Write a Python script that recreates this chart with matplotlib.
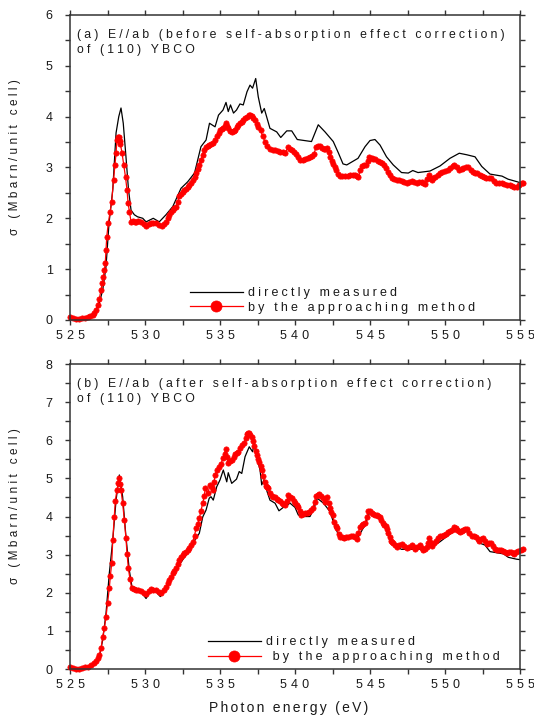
import matplotlib
matplotlib.use('Agg')
import matplotlib.pyplot as plt
from matplotlib.ticker import MultipleLocator, FuncFormatter

plt.rcParams['font.family'] = ['Liberation Sans', 'DejaVu Sans']

# ---- data (photon energy in eV, sigma in Mbarn/unit cell) ----
# (a) before correction, directly measured
a_meas_e = [525.0, 525.5, 526.0, 526.5, 526.95, 527.18, 527.4, 527.6, 527.85, 528.07,
            528.25, 528.4, 528.55, 528.73, 528.9, 529.07, 529.29, 529.5, 529.85, 530.07,
            530.55, 530.95, 531.4, 531.85, 532.4, 532.85, 533.3, 533.73, 534.07, 534.3,
            534.67, 534.9, 535.2, 535.4, 535.55, 535.7, 535.9, 536.1, 536.33, 536.55,
            536.8, 537.0, 537.17, 537.38, 537.55, 537.78, 537.95, 538.33, 538.78, 539.05,
            539.45, 539.78, 540.15, 541.1, 541.55, 542.0, 542.55, 542.9, 543.2, 543.45,
            544.2, 544.67, 545.0, 545.33, 545.67, 546.1, 546.55, 547.1, 547.55, 547.85,
            548.2, 549.0, 549.67, 550.33, 550.95, 551.45, 552.0, 552.45, 553.0, 553.8,
            554.2, 554.8, 555.0]
a_meas_s = [0.03, 0.02, 0.03, 0.06, 0.33, 0.59, 1.05, 1.9, 2.56, 3.68,
            4.0, 4.17, 3.87, 3.21, 2.56, 2.16, 2.07, 2.03, 2.0, 1.93,
            2.0, 1.93, 2.07, 2.23, 2.59, 2.72, 2.89, 3.41, 3.54, 3.87,
            3.8, 4.03, 4.13, 4.28, 4.1, 4.23, 4.07, 4.13, 4.25, 4.23,
            4.49, 4.62, 4.56, 4.75, 4.39, 4.07, 4.16, 3.77, 3.7, 3.59,
            3.72, 3.72, 3.55, 3.51, 3.84, 3.7, 3.51, 3.28, 3.07, 3.05,
            3.18, 3.41, 3.53, 3.55, 3.44, 3.21, 3.05, 2.9, 2.89, 2.94,
            2.9, 2.93, 3.03, 3.18, 3.28, 3.25, 3.21, 3.02, 2.87, 2.83,
            2.77, 2.72, 2.70]

# (a) before correction, approaching method
a_appr_e = [525.0, 525.2, 525.4, 525.6, 525.8, 526.0, 526.2, 526.35, 526.5, 526.62,
            526.73, 526.85, 526.95, 527.07, 527.15, 527.22, 527.29, 527.35, 527.4, 527.45,
            527.55, 527.67, 527.78, 527.9, 528.0, 528.07, 528.13, 528.19, 528.25, 528.3,
            528.36, 528.47, 528.58, 528.7, 528.8, 528.87, 528.96, 529.07, 529.2, 529.3,
            529.4, 529.55, 529.73, 529.9, 530.07, 530.25, 530.4, 530.55, 530.73, 530.9,
            531.13, 531.25, 531.4, 531.5, 531.62, 531.75, 531.85, 531.95, 532.07, 532.18,
            532.28, 532.4, 532.5, 532.62, 532.73, 532.85, 532.95, 533.07, 533.18, 533.3,
            533.4, 533.5, 533.62, 533.73, 533.85, 533.95, 534.07, 534.18, 534.28, 534.4,
            534.55, 534.67, 534.78, 534.9, 535.0, 535.11, 535.22, 535.3, 535.38, 535.47,
            535.55, 535.67, 535.78, 535.9, 536.0, 536.11, 536.22, 536.33, 536.45, 536.56,
            536.67, 536.78, 536.9, 537.0, 537.1, 537.22, 537.33, 537.45, 537.55, 537.7,
            537.85, 538.0, 538.15, 538.33, 538.5, 538.67, 538.85, 539.0, 539.17, 539.33,
            539.55, 539.67, 539.78, 539.93, 540.07, 540.2, 540.33, 540.5, 540.67, 540.85,
            541.0, 541.15, 541.27, 541.4, 541.55, 541.67, 541.8, 541.9, 542.0, 542.15,
            542.25, 542.33, 542.45, 542.55, 542.65, 542.73, 542.85, 543.0, 543.15, 543.33,
            543.5, 543.67, 543.85, 544.0, 544.12, 544.22, 544.35, 544.45, 544.6, 544.73,
            544.85, 544.95, 545.1, 545.2, 545.33, 545.5, 545.67, 545.8, 545.93, 546.07,
            546.22, 546.33, 546.45, 546.6, 546.78, 546.95, 547.1, 547.28, 547.45, 547.6,
            547.78, 547.95, 548.1, 548.28, 548.45, 548.55, 548.67, 548.8, 548.9, 549.0,
            549.1, 549.2, 549.33, 549.5, 549.67, 549.83, 550.0, 550.17, 550.33, 550.5,
            550.62, 550.8, 550.95, 551.1, 551.22, 551.4, 551.55, 551.7, 551.85, 552.0,
            552.15, 552.3, 552.45, 552.6, 552.73, 552.9, 553.07, 553.25, 553.4, 553.6,
            553.78, 553.95, 554.1, 554.3, 554.45, 554.6, 554.78, 554.95, 555.1, 555.2]
a_appr_s = [0.05, 0.03, 0.01, 0.02, 0.03, 0.04, 0.05, 0.07, 0.1, 0.14,
            0.2, 0.3, 0.41, 0.59, 0.72, 0.85, 0.98, 1.12, 1.38, 1.64,
            1.9, 2.13, 2.33, 2.75, 3.05, 3.28, 3.54, 3.6, 3.59, 3.52,
            3.46, 3.28, 3.05, 2.81, 2.56, 2.3, 2.13, 1.93, 1.94, 1.92,
            1.92, 1.94, 1.93, 1.88, 1.85, 1.89, 1.91, 1.9, 1.9, 1.86,
            1.84, 1.88, 1.93, 2.0, 2.07, 2.12, 2.16, 2.2, 2.23, 2.33,
            2.43, 2.48, 2.52, 2.55, 2.57, 2.62, 2.66, 2.7, 2.75, 2.82,
            2.89, 2.97, 3.05, 3.15, 3.25, 3.34, 3.41, 3.42, 3.44, 3.46,
            3.48, 3.55, 3.61, 3.68, 3.74, 3.75, 3.77, 3.82, 3.87, 3.82,
            3.77, 3.72, 3.7, 3.72, 3.74, 3.79, 3.84, 3.87, 3.9, 3.94,
            3.97, 4.0, 4.03, 4.03, 4.01, 3.97, 3.93, 3.86, 3.8, 3.74,
            3.61, 3.51, 3.43, 3.36, 3.35, 3.34, 3.32, 3.31, 3.3, 3.28,
            3.4, 3.37, 3.34, 3.3, 3.27, 3.2, 3.15, 3.15, 3.16, 3.18,
            3.2, 3.23, 3.27, 3.4, 3.42, 3.42, 3.39, 3.36, 3.36, 3.38,
            3.3, 3.21, 3.13, 3.07, 3.0, 2.95, 2.87, 2.83, 2.83, 2.83,
            2.84, 2.85, 2.85, 2.85, 2.83, 2.81, 2.95, 3.02, 3.04, 3.05,
            3.12, 3.21, 3.19, 3.17, 3.16, 3.13, 3.11, 3.08, 3.05, 2.99,
            2.92, 2.85, 2.79, 2.77, 2.75, 2.75, 2.74, 2.72, 2.7, 2.72,
            2.74, 2.72, 2.69, 2.71, 2.72, 2.7, 2.68, 2.77, 2.85, 2.8,
            2.75, 2.79, 2.82, 2.86, 2.9, 2.92, 2.94, 2.96, 2.98, 3.02,
            3.05, 3.0, 2.95, 2.97, 2.98, 3.0, 3.0, 2.96, 2.92, 2.9,
            2.89, 2.86, 2.83, 2.81, 2.79, 2.79, 2.79, 2.74, 2.7, 2.7,
            2.69, 2.67, 2.66, 2.65, 2.64, 2.62, 2.61, 2.66, 2.7, 2.69]

# (b) after correction, directly measured
b_meas_e = [525.0, 525.5, 526.0, 526.5, 526.95, 527.18, 527.4, 527.62, 527.85, 528.07,
            528.29, 528.51, 528.73, 528.95, 529.13, 529.4, 529.73, 530.07, 530.4, 530.73,
            531.02, 531.4, 531.85, 532.28, 532.73, 533.18, 533.62, 533.85, 534.07, 534.28,
            534.4, 534.55, 534.78, 535.0, 535.22, 535.45, 535.55, 535.78, 536.1, 536.28,
            536.45, 536.67, 536.95, 537.17, 537.28, 537.45, 537.67, 537.78, 537.93, 538.1,
            538.33, 538.67, 538.93, 539.22, 539.67, 540.0, 540.22, 540.55, 541.0, 541.27,
            541.48, 541.9, 542.33, 542.67, 542.95, 543.27, 543.78, 544.22, 544.67, 545.0,
            545.33, 545.67, 546.0, 546.33, 546.67, 547.1, 547.67, 548.22, 548.78, 549.22,
            549.67, 550.1, 550.55, 551.0, 551.45, 551.9, 552.33, 552.67, 553.0, 553.45,
            553.9, 554.22, 554.78, 555.0]
b_meas_s = [0.03, 0.02, 0.03, 0.06, 0.32, 0.76, 1.46, 2.51, 3.38, 4.43,
            5.09, 4.52, 3.47, 2.6, 2.16, 2.12, 2.03, 1.85, 2.07, 2.03,
            1.9, 2.12, 2.47, 2.73, 2.99, 3.3, 3.56, 3.99, 4.17, 4.48,
            4.52, 4.43, 4.78, 4.96, 5.22, 4.91, 5.15, 4.87, 4.98, 5.18,
            5.13, 5.57, 5.83, 5.7, 5.92, 5.57, 5.22, 4.83, 4.96, 4.7,
            4.43, 4.35, 4.15, 4.24, 4.35, 4.24, 4.04, 4.0, 4.0, 4.22,
            4.48, 4.35, 4.13, 3.73, 3.47, 3.37, 3.47, 3.47, 3.78, 4.13,
            4.04, 3.95, 3.73, 3.38, 3.23, 3.14, 3.14, 3.14, 3.17, 3.23,
            3.34, 3.47, 3.6, 3.65, 3.6, 3.51, 3.3, 3.25, 3.08, 3.05,
            3.02, 2.93, 2.88, 2.87]

# (b) after correction, approaching method
b_appr_e = [525.0, 525.2, 525.4, 525.6, 525.8, 526.0, 526.2, 526.4, 526.62, 526.75,
            526.85, 526.95, 527.07, 527.18, 527.29, 527.4, 527.51, 527.62, 527.69, 527.78,
            527.85, 527.95, 528.02, 528.13, 528.22, 528.29, 528.35, 528.4, 528.51, 528.62,
            528.73, 528.8, 528.89, 529.0, 529.11, 529.25, 529.4, 529.55, 529.73, 529.9,
            530.07, 530.25, 530.4, 530.55, 530.73, 530.9, 531.07, 531.25, 531.4, 531.5,
            531.62, 531.75, 531.85, 531.95, 532.07, 532.18, 532.28, 532.4, 532.51, 532.62,
            532.73, 532.85, 532.95, 533.07, 533.18, 533.3, 533.4, 533.5, 533.62, 533.73,
            533.85, 533.95, 534.02, 534.18, 534.35, 534.45, 534.51, 534.6, 534.67, 534.82,
            534.95, 535.05, 535.22, 535.3, 535.38, 535.47, 535.55, 535.67, 535.78, 535.9,
            536.0, 536.11, 536.22, 536.33, 536.45, 536.6, 536.7, 536.78, 536.87, 536.95,
            537.03, 537.11, 537.2, 537.28, 537.37, 537.45, 537.55, 537.62, 537.7, 537.78,
            537.89, 537.98, 538.07, 538.15, 538.22, 538.33, 538.45, 538.55, 538.67, 538.78,
            538.89, 539.0, 539.11, 539.22, 539.33, 539.45, 539.55, 539.67, 539.78, 539.9,
            540.0, 540.11, 540.22, 540.3, 540.38, 540.5, 540.67, 540.8, 540.95, 541.07,
            541.18, 541.3, 541.4, 541.5, 541.62, 541.75, 541.85, 542.0, 542.15, 542.25,
            542.33, 542.42, 542.51, 542.6, 542.7, 542.78, 542.9, 543.0, 543.15, 543.27,
            543.4, 543.55, 543.7, 543.85, 544.0, 544.11, 544.22, 544.33, 544.45, 544.55,
            544.67, 544.78, 544.89, 545.0, 545.1, 545.22, 545.33, 545.45, 545.55, 545.67,
            545.75, 545.85, 545.95, 546.07, 546.15, 546.22, 546.3, 546.38, 546.45, 546.55,
            546.67, 546.78, 546.95, 547.11, 547.28, 547.45, 547.6, 547.78, 547.9, 548.0,
            548.15, 548.33, 548.45, 548.55, 548.67, 548.78, 548.87, 548.95, 549.03, 549.11,
            549.25, 549.4, 549.55, 549.67, 549.8, 549.93, 550.07, 550.22, 550.35, 550.45,
            550.6, 550.7, 550.82, 550.9, 551.0, 551.1, 551.22, 551.35, 551.45, 551.6,
            551.78, 551.92, 552.07, 552.18, 552.29, 552.42, 552.55, 552.65, 552.78, 552.9,
            553.05, 553.2, 553.33, 553.48, 553.62, 553.75, 553.89, 554.0, 554.11, 554.25,
            554.38, 554.5, 554.6, 554.75, 554.89, 555.05, 555.22]
b_appr_s = [0.05, 0.03, 0.0, 0.01, 0.03, 0.04, 0.06, 0.1, 0.17, 0.22,
            0.28, 0.37, 0.54, 0.85, 1.07, 1.37, 1.74, 2.12, 2.44, 2.77,
            3.38, 3.98, 4.41, 4.7, 4.89, 5.0, 4.85, 4.7, 4.35, 3.91,
            3.43, 3.03, 2.64, 2.35, 2.12, 2.09, 2.07, 2.07, 2.05, 2.0,
            1.97, 2.04, 2.09, 2.08, 2.07, 2.03, 2.0, 2.08, 2.16, 2.25,
            2.33, 2.42, 2.51, 2.57, 2.64, 2.75, 2.86, 2.93, 2.99, 3.04,
            3.08, 3.12, 3.17, 3.25, 3.34, 3.5, 3.69, 3.8, 3.95, 4.15,
            4.35, 4.55, 4.74, 4.61, 4.83, 4.78, 4.7, 4.9, 5.1, 5.22,
            5.3, 5.38, 5.53, 5.65, 5.76, 5.55, 5.4, 5.45, 5.48, 5.56,
            5.64, 5.67, 5.7, 5.8, 5.88, 5.92, 6.05, 6.16, 6.18, 6.18,
            6.15, 6.09, 5.97, 5.85, 5.73, 5.61, 5.5, 5.44, 5.33, 5.22,
            5.06, 4.9, 4.8, 4.77, 4.74, 4.62, 4.54, 4.52, 4.5, 4.47,
            4.43, 4.4, 4.36, 4.33, 4.3, 4.4, 4.56, 4.52, 4.48, 4.41,
            4.35, 4.3, 4.26, 4.15, 4.04, 4.06, 4.08, 4.1, 4.13, 4.17,
            4.22, 4.38, 4.54, 4.57, 4.59, 4.53, 4.48, 4.39, 4.5, 4.35,
            4.22, 4.13, 4.04, 3.86, 3.76, 3.69, 3.55, 3.47, 3.45, 3.43,
            3.45, 3.47, 3.48, 3.49, 3.45, 3.4, 3.57, 3.73, 3.77, 3.8,
            3.82, 3.98, 4.15, 4.15, 4.1, 4.07, 4.05, 4.04, 4.01, 3.98,
            3.9, 3.84, 3.79, 3.75, 3.66, 3.58, 3.47, 3.36, 3.33, 3.31,
            3.26, 3.21, 3.25, 3.28, 3.22, 3.17, 3.21, 3.25, 3.2, 3.14,
            3.19, 3.25, 3.18, 3.12, 3.15, 3.19, 3.3, 3.43, 3.33, 3.23,
            3.3, 3.37, 3.43, 3.49, 3.5, 3.51, 3.55, 3.6, 3.62, 3.65,
            3.73, 3.69, 3.65, 3.62, 3.6, 3.62, 3.65, 3.66, 3.66, 3.57,
            3.49, 3.48, 3.47, 3.42, 3.37, 3.4, 3.43, 3.35, 3.28, 3.3,
            3.31, 3.22, 3.14, 3.13, 3.12, 3.11, 3.1, 3.08, 3.05, 3.07,
            3.08, 3.05, 3.03, 3.07, 3.1, 3.12, 3.14]

panels = [
    dict(meas=(a_meas_e, a_meas_s), appr=(a_appr_e, a_appr_s), ymax=6,
         title='(a) E//ab (before self-absorption effect correction)\nof (110) YBCO',
         leg_x=0.267, lab2='by the approaching method'),
    dict(meas=(b_meas_e, b_meas_s), appr=(b_appr_e, b_appr_s), ymax=8,
         title='(b) E//ab (after self-absorption effect correction)\nof (110) YBCO',
         leg_x=0.307, lab2=' by the approaching method'),
]

TXT = '#1a1a1a'
W = '\u2005'   # letter spacing for 9pt text
WX = '\u2006'  # letter spacing for x axis title


def spread(s, gap=W):
    # Origin-style wide letter spacing
    return '\n'.join(gap.join(line) for line in s.split('\n'))


fig = plt.figure(figsize=(5.34, 7.2), dpi=100)
ax1 = fig.add_axes([0.1311, 0.5556, 0.8427, 0.4236])
ax2 = fig.add_axes([0.1311, 0.0708, 0.8427, 0.4236])

for ax, p in zip((ax1, ax2), panels):
    ax.plot(*p['meas'], color='black', lw=0.9, label=spread('directly measured'))
    ax.plot(*p['appr'], color='red', lw=0.9, marker='o', ms=3.8, mfc='red',
            mec='red', mew=0.5, clip_on=False, label=spread(p['lab2']))

    ax.set_xlim(525, 555)
    ax.set_ylim(0, p['ymax'])
    ax.xaxis.set_major_locator(MultipleLocator(5))
    ax.xaxis.set_minor_locator(MultipleLocator(2.5))
    ax.yaxis.set_major_locator(MultipleLocator(1))
    ax.yaxis.set_minor_locator(MultipleLocator(0.5))
    ax.xaxis.set_major_formatter(FuncFormatter(lambda v, pos: spread('%d' % v, '\u2004')))
    ax.yaxis.set_major_formatter(FuncFormatter(lambda v, pos: '%d' % v))
    ax.tick_params(which='both', direction='out', top=True, right=True,
                   length=3.5, width=1.0, color='#333333', labelcolor=TXT, labelsize=9)
    ax.tick_params(axis='x', pad=4)
    ax.tick_params(axis='y', pad=9)
    for sp in ax.spines.values():
        sp.set_linewidth(1.1)
        sp.set_color('#333333')

    ax.text(0.0156, 0.955, spread(p['title']), transform=ax.transAxes,
            ha='left', va='top', fontsize=8.85, color=TXT, linespacing=1.38)

    ax.set_ylabel(spread('σ (Mbarn/unit cell)', '\u2009\u200a'), fontsize=8.5, color=TXT)
    ax.yaxis.set_label_coords(-0.108, 0.533)

    ax.legend(loc='lower left', bbox_to_anchor=(p['leg_x'], 0.02), frameon=False,
              fontsize=9, handlelength=4.2, handletextpad=0.45, labelspacing=0.2,
              borderpad=0, borderaxespad=0, markerscale=2.1, labelcolor=TXT)

ax2.set_xlabel(spread('Photon energy (eV)', WX), fontsize=10, color=TXT)
ax2.xaxis.set_label_coords(0.485, -0.105)

fig.savefig('out.png', dpi=100, facecolor='white')
